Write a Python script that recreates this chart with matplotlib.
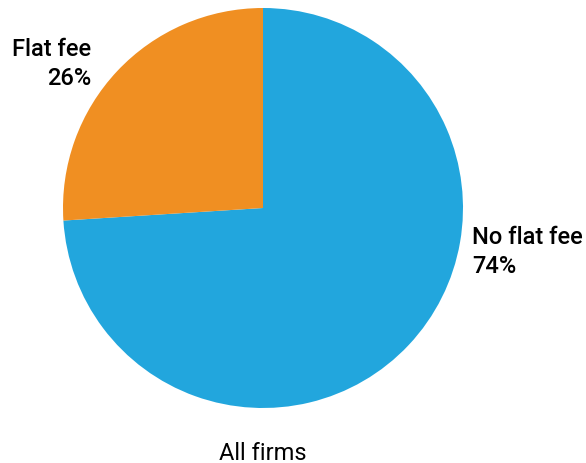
import matplotlib
matplotlib.use("Agg")
import matplotlib.pyplot as plt

labels = ["No flat fee", "Flat fee"]
shares = [74, 26]
colors = ["#22A6DD", "#F08F22"]
title = "All firms"

plt.rcParams['font.family'] = ['Roboto', 'DejaVu Sans']

fig = plt.figure(figsize=(5.86, 4.63), dpi=100)
ax = fig.add_axes([63 / 586, 55 / 463, 400 / 586, 400 / 463])

ax.pie(shares, colors=colors, startangle=90, counterclock=False,
       radius=1.0, wedgeprops=dict(linewidth=0))
ax.set_xlim(-1, 1)
ax.set_ylim(-1, 1)
ax.set_aspect('equal')
ax.axis('off')

# slice labels
ax.text(-0.86, 0.85, f"{labels[1]}\n{shares[1]}%", ha='right', va='top',
        fontsize=17, fontweight='medium', linespacing=1.32)
ax.text(1.045, -0.09, f"{labels[0]}\n{shares[0]}%", ha='left', va='top',
        fontsize=17, fontweight='medium', linespacing=1.32)

fig.text(263 / 586, 10 / 463, title, ha='center', va='center', fontsize=17)

fig.savefig("out.png", dpi=100)
